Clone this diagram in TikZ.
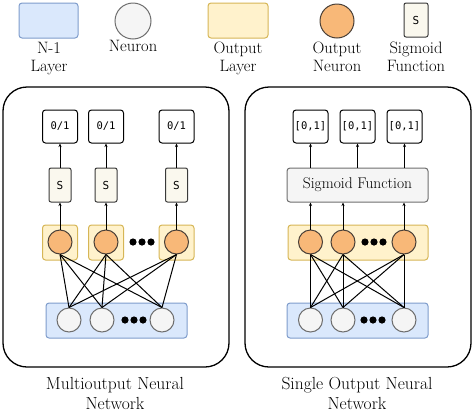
\documentclass[tikz,border=0pt]{standalone}
\usepackage{fontspec}
\newfontfamily\boxfont{DejaVu Sans Mono}
\usetikzlibrary{arrows.meta, positioning, fit}

\definecolor{inFill}{HTML}{DAE8FC}
\definecolor{inDraw}{HTML}{7E9CCB}
\definecolor{nFill}{HTML}{F5F5F5}
\definecolor{nDraw}{HTML}{6E6E6E}
\definecolor{outFill}{HTML}{FFF2CC}
\definecolor{outDraw}{HTML}{D6B656}
\definecolor{onFill}{HTML}{F8B878}
\definecolor{onDraw}{HTML}{4A4038}
\definecolor{sFill}{HTML}{FAF8EE}
\definecolor{sDraw}{HTML}{3A3A3A}

\newcommand{\dotrow}[1]{\foreach \dx in {-9,0,9} \fill ([xshift=\dx pt]#1) circle (3.6pt);}

\begin{document}
\begin{tikzpicture}[
        x=1pt, y=-1pt, >={Stealth[length=3.5pt,width=3pt]},
        txt/.style={font=\fontsize{16.5}{18}\selectfont, align=center, inner sep=1pt},
        netcaption/.style={font=\fontsize{17.5}{20}\selectfont, align=center},
        neuron/.style={circle, draw=nDraw, fill=nFill, line width=1pt, minimum size=24pt, inner sep=0pt},
        oneuron/.style={neuron, draw=onDraw, fill=onFill},
        inlayer/.style={draw=inDraw, fill=inFill, rounded corners=3pt, line width=1pt, minimum height=35pt},
        outlayer/.style={draw=outDraw, fill=outFill, rounded corners=3pt, line width=1pt, minimum height=35pt},
        sbox/.style={draw=sDraw, fill=sFill, rounded corners=2pt, line width=1pt, minimum width=22pt, minimum height=34pt, inner sep=0pt, font=\fontsize{11}{13}\boxfont},
        obox/.style={draw, fill=white, rounded corners=3pt, line width=1pt, minimum width=35pt, minimum height=33pt, inner sep=0pt, font=\fontsize{10.5}{13}\boxfont},
        panel/.style={draw, line width=1.3pt, rounded corners=24pt},
        link/.style={line width=1pt},
        ]
        \useasboundingbox (0,0) rectangle (474,413);

        % legend
        \node[inlayer, minimum width=59pt]            (lgIn)  at (48.5,20.5) {};
        \node[neuron, minimum size=36pt]              (lgN)   at (133,21) {};
        \node[outlayer, minimum width=60pt]           (lgOut) at (238,20.5) {};
        \node[oneuron, minimum size=34pt]             (lgON)  at (337,21) {};
        \node[sbox, minimum width=24pt]               (lgS)   at (416,20) {S};
        \node[txt, anchor=north] at (49,41)  {N-1\\Layer};
        \node[txt, anchor=north] at (133,39) {Neuron};
        \node[txt, anchor=north] at (238,41) {Output\\Layer};
        \node[txt, anchor=north] at (337,41) {Output\\Neuron};
        \node[txt, anchor=north] at (416,41) {Sigmoid\\Function};

        % panels
        \draw[panel] (3,87) rectangle (229,367);
        \draw[panel] (245,87) rectangle (471,367);

        % multioutput network
        \node[inlayer, minimum width=141pt] (lIn) at (116.5,320.5) {};
        \foreach \i/\x in {1/60, 2/106, 3/176.5} {
            \node[outlayer, minimum width=35pt] (lBox\i) at (\x,242.5) {};
            \node[oneuron] (lo\i) at (\x,242) {};
            \node[sbox]    (ls\i) at (\x,185) {S};
            \node[obox]    (lr\i) at (\x,126.5) {0/1};
            \draw[->, link] (lo\i) -- (ls\i);
            \draw[->, link] (ls\i) -- (lr\i);
        }
        \foreach \j/\x in {1/69, 2/102, 3/162}
            \node[neuron] (li\j) at (\x,320) {};
        \foreach \i in {1,2,3}
            \foreach \j in {1,2,3}
                \draw[link] (lo\i.south) -- (li\j.north);
        \dotrow{142,242}
        \dotrow{134,320}
        \node[netcaption] at (115,393) {Multioutput Neural\\Network};

        % single output network
        \node[outlayer, minimum width=140pt] (rOut) at (358,242.5) {};
        \node[inlayer, minimum width=141pt]  (rIn)  at (357.5,320.5) {};
        \node[draw=nDraw, fill=nFill, rounded corners=3pt, line width=1pt,
              minimum width=141pt, minimum height=34pt, font=\fontsize{15.5}{17}\selectfont] (sig) at (357.5,185) {Sigmoid Function};
        \foreach \i/\x in {1/310.5, 2/343, 3/404} {
            \node[oneuron] (ro\i) at (\x,242) {};
            \node[neuron]  (ri\i) at (\x,320) {};
            \draw[->, link] (ro\i) -- (sig.south -| ro\i);
        }
        \foreach \i/\x in {1/310.5, 2/357.5, 3/404.5} {
            \node[obox] (rr\i) at (\x,126.5) {[0,1]};
            \draw[->, link] (sig.north -| rr\i) -- (rr\i);
        }
        \foreach \i in {1,2,3}
            \foreach \j in {1,2,3}
                \draw[link] (ro\i.south) -- (ri\j.north);
        \dotrow{374,242}
        \dotrow{373,320}
        \node[netcaption] at (357,393) {Single Output Neural\\Network};
\end{tikzpicture}
\end{document}
